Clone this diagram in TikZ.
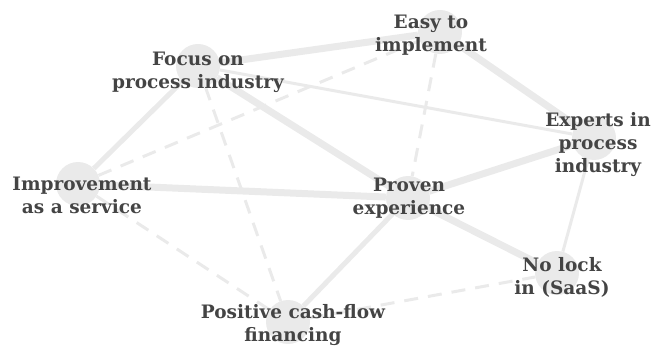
\documentclass[tikz,border=0pt]{standalone}
\usepackage{fontspec}
\setmainfont{DejaVu Serif}
\definecolor{edgegray}{HTML}{EAEAEA}
\definecolor{textgray}{HTML}{444444}

\begin{document}
\begin{tikzpicture}
  [x=1pt,y=-1pt,
   dot/.style={circle,fill=edgegray,minimum size=44pt,inner sep=0pt},
   lbl/.style={text=textgray,font=\bfseries\fontsize{18.5}{23}\selectfont,align=center,inner sep=0pt},
   heavy/.style={draw=edgegray,line width=7pt},
   medium/.style={draw=edgegray,line width=5pt},
   light/.style={draw=edgegray,line width=3pt},
   weak/.style={draw=edgegray,line width=3pt,dash pattern=on 14pt off 10pt}]
  \useasboundingbox (0,0) rectangle (653,347);
  \node[dot] (focus)    at (198,66)  {};
  \node[dot] (easy)     at (440,32)  {};
  \node[dot] (experts)  at (594,138) {};
  \node[dot] (improve)  at (78,184)  {};
  \node[dot] (proven)   at (408,198) {};
  \node[dot] (nolock)   at (557,273) {};
  \node[dot] (positive) at (288,322) {};

  \foreach \from/\to in {focus/easy,easy/experts,focus/proven,experts/proven,improve/proven,proven/nolock}
    \draw[heavy] (\from) -- (\to);
  \foreach \from/\to in {focus/improve,proven/positive}
    \draw[medium] (\from) -- (\to);
  \foreach \from/\to in {focus/experts,experts/nolock}
    \draw[light] (\from) -- (\to);
  \foreach \from/\to in {improve/easy,focus/positive,easy/proven,improve/positive,positive/nolock}
    \draw[weak] (\from) -- (\to);

  \node[lbl] (focuslbl)    at (198,72)  {Focus on\\process industry};
  \node[lbl] (easylbl)     at (431,35)  {Easy to\\implement};
  \node[lbl] (expertslbl)  at (598,145) {Experts in\\process\\industry};
  \node[lbl] (improvelbl)  at (82,195)  {Improvement\\as a service};
  \node[lbl] (provenlbl)   at (409,198) {Proven\\experience};
  \node[lbl] (nolocklbl)   at (562,277) {No lock\\in (SaaS)};
  \node[lbl] (positivelbl) at (293,325) {Positive cash-flow\\financing};
\end{tikzpicture}
\end{document}
